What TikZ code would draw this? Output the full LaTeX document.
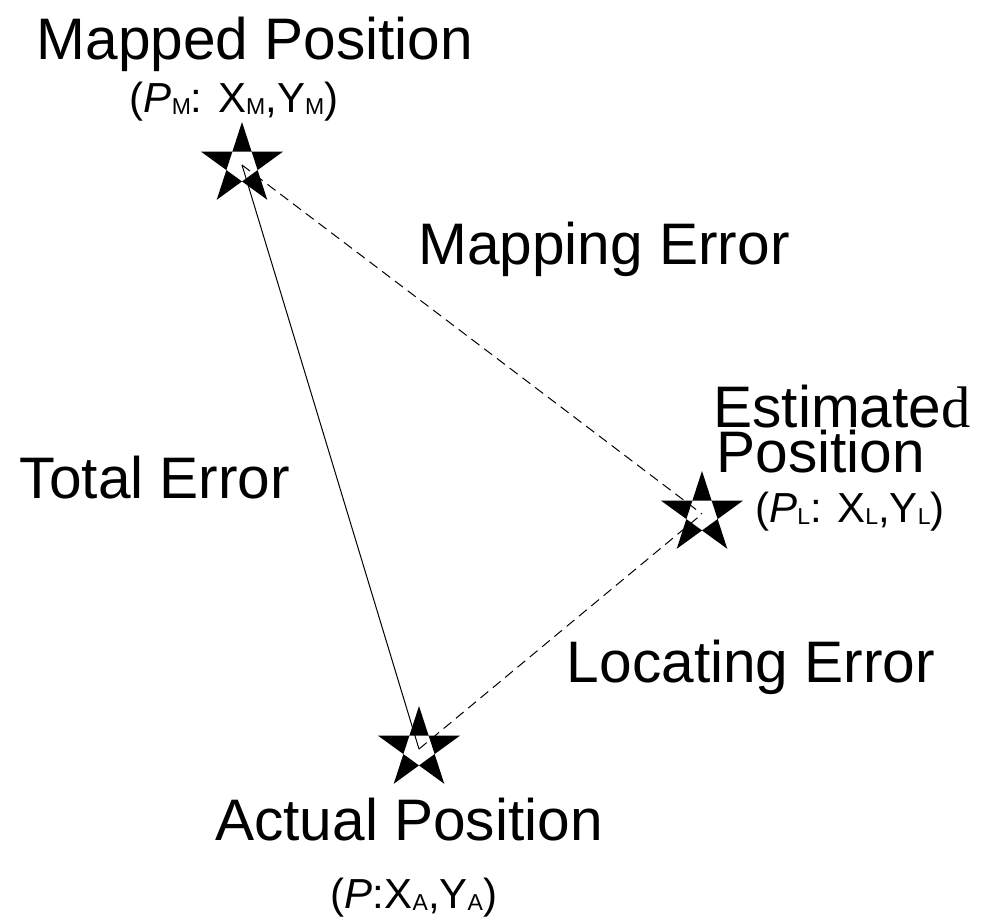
\documentclass[tikz,border=0pt]{standalone}
\usepackage{fontspec}
\setmainfont{Liberation Sans}
\newfontfamily\seriffont{Liberation Serif}
\usetikzlibrary{positioning}
% small lowered index letter for the coordinates
\newcommand{\pidx}[1]{\raisebox{-1pt}{\fontsize{11.5}{12}\selectfont #1}}
\tikzset{
  big/.style={inner sep=0pt,font=\fontsize{29.3}{34}\selectfont},
  coord/.style={inner sep=0pt,font=\fontsize{21}{25}\selectfont},
  err/.style={draw=black,line width=0.5pt},
  errd/.style={err,dash pattern=on 5pt off 3pt},
  pentagram/.pic={
    \fill[even odd rule] (90:21.5pt) -- (234:21.5pt) -- (18:21.5pt)
      -- (162:21.5pt) -- (306:21.5pt) -- cycle;
  },
}
\begin{document}
\begin{tikzpicture}[x=0.5pt,y=-0.5pt]
  \useasboundingbox (0,0) rectangle (989,922);
  % the three positions
  \coordinate (pm) at (242,165);
  \coordinate (pl) at (702,514);
  \coordinate (pa) at (419,749);
  % error lines, stars go on top
  \draw[err] (pa) -- (pm);
  \draw[errd] (pm) -- (pl);
  \draw[errd] (pa) -- (pl);
  \pic at (pm) {pentagram};
  \pic at (pl) {pentagram};
  \pic at (pa) {pentagram};
  % labels
  \node[big,anchor=base] (mapped) at (255,59) {Mapped Position};
  \node[coord,anchor=base] (mappedxy) at (234,112) {(\textit{P}\pidx{M}: X\pidx{M},Y\pidx{M})};
  \node[big,anchor=base] (maperr) at (604,264) {Mapping Error};
  \node[big,anchor=base west] (est) at (713,427) {Estimate{\seriffont d}};
  \node[big,anchor=base west] (estpos) at (716,472) {Position};
  \node[coord,anchor=base west] (estxy) at (755,522) {(\textit{P}\pidx{L}: X\pidx{L},Y\pidx{L})};
  \node[big,anchor=base] (toterr) at (155,498) {Total Error};
  \node[big,anchor=base] (locerr) at (751,682) {Locating Error};
  \node[big,anchor=base] (actual) at (409,840) {Actual Position};
  \node[coord,anchor=base] (actualxy) at (414,908) {(\textit{P}:X\pidx{A},Y\pidx{A})};
\end{tikzpicture}
\end{document}
